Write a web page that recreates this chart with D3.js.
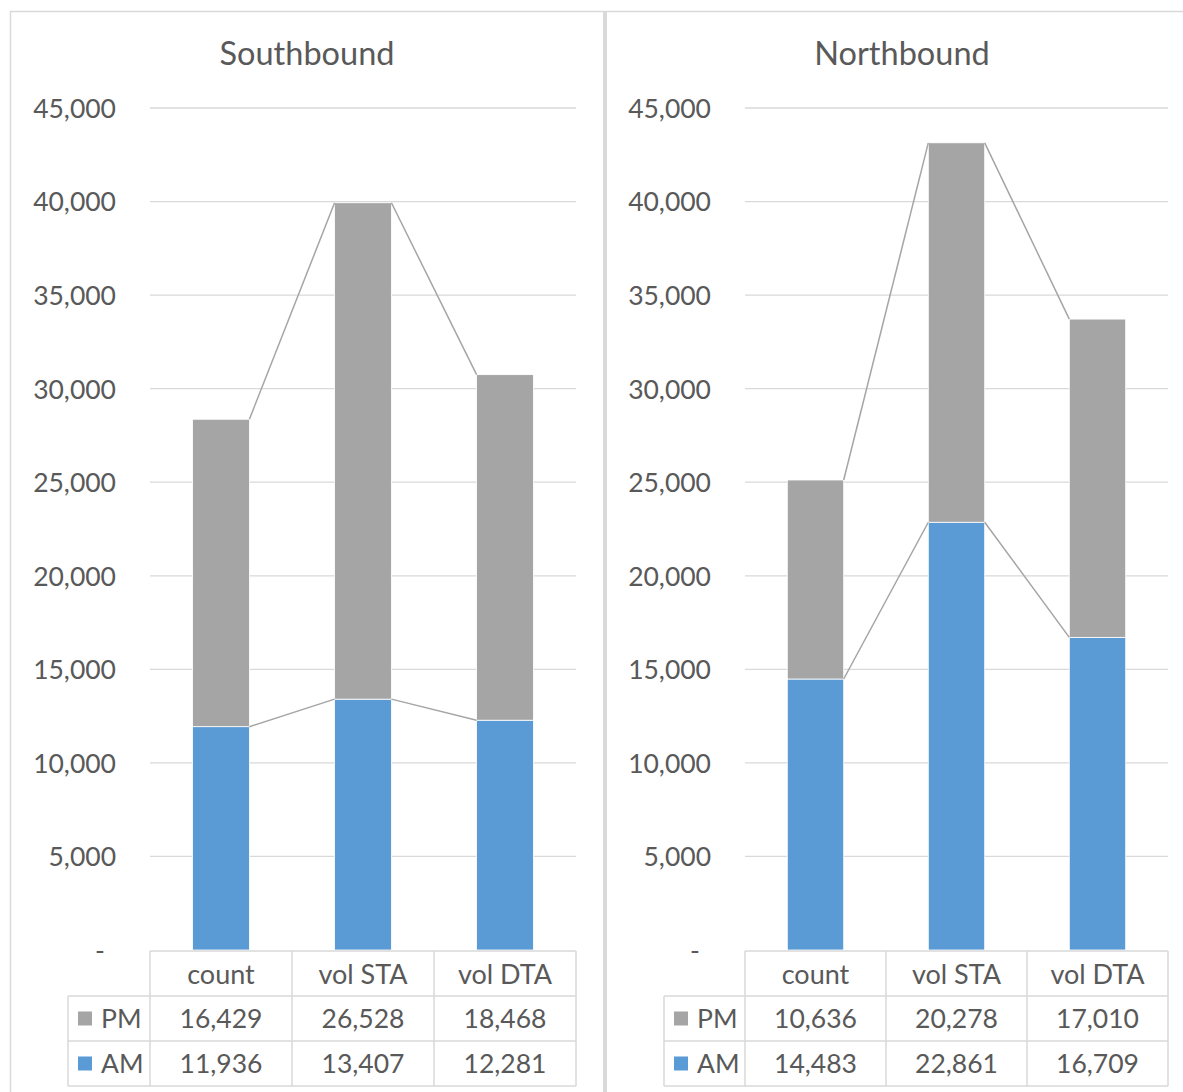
<!DOCTYPE html>
<html>
<head>
<meta charset="utf-8">
<script src="https://cdn.jsdelivr.net/npm/d3@7"></script>
<style>
  body { margin: 0; background: #fff; }
  text { font-family: Lato, "Open Sans", sans-serif; fill: #595959; }
</style>
</head>
<body>
<svg width="1183" height="1092"></svg>
<script>
// categories and values
var categories = ["count", "vol STA", "vol DTA"];
var seriesNames = ["PM", "AM"];
var southAM = [11936, 13407, 12281];
var southPM = [16429, 26528, 18468];
var northAM = [14483, 22861, 16709];
var northPM = [10636, 20278, 17010];
var yTicks = [0, 5000, 10000, 15000, 20000, 25000, 30000, 35000, 40000, 45000];

var colors = { AM: "#5b9bd5", PM: "#a5a5a5" };
var gridColor = "#d9d9d9";
var fmt = d3.format(",");
var labelSize = "26.5px";

var svg = d3.select("svg");

// outer frame + divider between the two charts
svg.append("line").attr("x1", 10).attr("x2", 1183).attr("y1", 11.5).attr("y2", 11.5)
  .attr("stroke", gridColor).attr("stroke-width", 1.5);
svg.append("line").attr("x1", 10.5).attr("x2", 10.5).attr("y1", 11).attr("y2", 1092)
  .attr("stroke", gridColor).attr("stroke-width", 1.5);
svg.append("rect").attr("x", 603).attr("y", 11).attr("width", 4).attr("height", 1081)
  .attr("fill", gridColor);

function drawPanel(title, am, pm, left, right, legendX, titleX) {
  var g = svg.append("g");

  var y = d3.scaleLinear().domain([0, 45000]).range([950, 108]);
  var x = d3.scaleBand().domain(categories).range([left, right])
    .paddingInner(0.6).paddingOuter(0.3);
  var step = (right - left) / categories.length;

  // title
  g.append("text").attr("x", titleX).attr("y", 54).attr("dy", "0.1em")
    .attr("text-anchor", "middle").attr("dominant-baseline", "middle")
    .style("font-size", "32.5px").text(title);

  // gridlines
  g.selectAll(".grid").data(yTicks.filter(function(d) { return d > 0; }))
    .enter().append("line")
    .attr("x1", left).attr("x2", right)
    .attr("y1", function(d) { return y(d); }).attr("y2", function(d) { return y(d); })
    .attr("stroke", gridColor).attr("stroke-width", 1.3);

  // y tick labels
  g.selectAll(".tick").data(yTicks).enter().append("text")
    .attr("x", function(d) { return d === 0 ? left - 50 : left - 34; })
    .attr("y", function(d) { return y(d); }).attr("dy", "0.12em")
    .attr("text-anchor", function(d) { return d === 0 ? "middle" : "end"; })
    .attr("dominant-baseline", "middle")
    .style("font-size", labelSize)
    .text(function(d) { return d === 0 ? "-" : fmt(d); });

  // stacked bars
  var rows = categories.map(function(c, i) { return { cat: c, AM: am[i], PM: pm[i] }; });
  var stack = d3.stack().keys(["AM", "PM"])(rows);

  g.selectAll(".layer").data(stack).enter().append("g")
    .attr("fill", function(d) { return colors[d.key]; })
    .selectAll("rect").data(function(d) { return d; }).enter().append("rect")
    .attr("x", function(d) { return x(d.data.cat); })
    .attr("width", x.bandwidth())
    .attr("y", function(d) { return y(d[1]); })
    .attr("height", function(d) { return y(d[0]) - y(d[1]); })
    .attr("stroke", "#fff").attr("stroke-width", 0.8);

  // series lines between bar tops
  stack.forEach(function(layer) {
    for (var i = 0; i < layer.length - 1; i++) {
      g.append("line")
        .attr("x1", x(layer[i].data.cat) + x.bandwidth())
        .attr("y1", y(layer[i][1]))
        .attr("x2", x(layer[i + 1].data.cat))
        .attr("y2", y(layer[i + 1][1]))
        .attr("stroke", "#a5a5a5").attr("stroke-width", 1.5);
    }
  });

  // data table
  var rowTop = [951, 996, 1041];
  var rowH = 45;
  var tableLines = g.append("g").attr("stroke", gridColor).attr("stroke-width", 1.5);
  tableLines.append("line").attr("x1", left).attr("x2", right).attr("y1", rowTop[0]).attr("y2", rowTop[0]);
  [rowTop[1], rowTop[2], rowTop[2] + rowH].forEach(function(yy) {
    tableLines.append("line").attr("x1", legendX).attr("x2", right).attr("y1", yy).attr("y2", yy);
  });
  d3.range(categories.length + 1).forEach(function(i) {
    var xx = left + i * step;
    tableLines.append("line").attr("x1", xx).attr("x2", xx).attr("y1", rowTop[0]).attr("y2", rowTop[2] + rowH);
  });
  tableLines.append("line").attr("x1", legendX).attr("x2", legendX).attr("y1", rowTop[1]).attr("y2", rowTop[2] + rowH);

  // header
  g.selectAll(".hdr").data(categories).enter().append("text")
    .attr("x", function(d) { return x(d) + x.bandwidth() / 2; })
    .attr("y", rowTop[0] + rowH / 2).attr("dy", "0.12em")
    .attr("text-anchor", "middle").attr("dominant-baseline", "middle")
    .style("font-size", "27px").text(function(d) { return d; });

  // value rows
  var rowData = { PM: pm, AM: am };
  seriesNames.forEach(function(s, r) {
    var cy = rowTop[r + 1] + rowH / 2;
    g.append("rect").attr("x", legendX + 10).attr("y", cy - 7).attr("width", 14).attr("height", 14)
      .attr("fill", colors[s]);
    g.append("text").attr("x", legendX + 33).attr("y", cy).attr("dy", "0.12em")
      .attr("dominant-baseline", "middle").style("font-size", labelSize).text(s);
    g.selectAll(".v" + s).data(rowData[s]).enter().append("text")
      .attr("x", function(d, i) { return x(categories[i]) + x.bandwidth() / 2; })
      .attr("y", cy).attr("dy", "0.12em")
      .attr("text-anchor", "middle").attr("dominant-baseline", "middle")
      .style("font-size", labelSize).text(function(d) { return fmt(d); });
  });
}

drawPanel("Southbound", southAM, southPM, 150, 576, 68, 307);
drawPanel("Northbound", northAM, northPM, 745, 1168, 664, 902);
</script>
</body>
</html>
